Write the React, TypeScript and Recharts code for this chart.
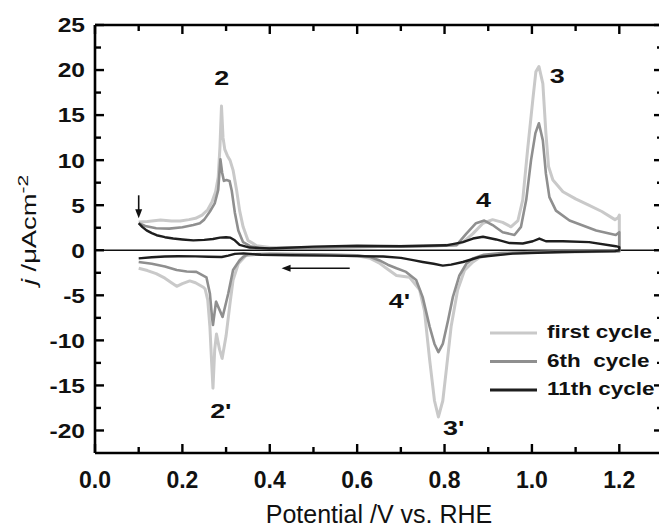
import React from 'react';
import { LineChart, Line, XAxis, YAxis, ReferenceLine, ReferenceDot, Legend, Label } from 'recharts';

const FONT = '"Liberation Sans", Arial, Helvetica, sans-serif';
const INK = '#111111';

// ---- first cycle (anodic 0.1 -> 1.2, then cathodic 1.2 -> 0.1) ----
const firstV = [
  0.100, 0.120, 0.150, 0.175, 0.195, 0.215, 0.230, 0.245, 0.258, 0.268, 0.276, 0.282, 0.286, 0.2895, 0.293, 0.297,
  0.303, 0.309, 0.316, 0.324, 0.331, 0.339, 0.350, 0.370, 0.400, 0.500, 0.600, 0.700, 0.780, 0.827, 0.845, 0.865,
  0.888, 0.910, 0.933, 0.952, 0.968, 0.979, 0.990, 1.002, 1.009, 1.016, 1.025, 1.032, 1.038, 1.048, 1.071, 1.100,
  1.130, 1.160, 1.190, 1.197, 1.200,
  1.200, 1.150, 1.100, 1.000, 0.950, 0.900, 0.880, 0.865, 0.846, 0.830, 0.815, 0.804, 0.796, 0.786, 0.777, 0.766,
  0.754, 0.743, 0.720, 0.690, 0.670, 0.650, 0.630, 0.600, 0.500, 0.420, 0.370, 0.345, 0.328, 0.316, 0.309, 0.300,
  0.291, 0.285, 0.278, 0.274, 0.270, 0.267, 0.263, 0.258, 0.252, 0.248, 0.230, 0.217, 0.200, 0.187, 0.175, 0.160,
  0.140, 0.120, 0.100,
];
const firstJ = [
  3.15, 3.2, 3.35, 3.25, 3.25, 3.4, 3.55, 3.9, 4.5, 5.4, 6.5, 8.1, 11.5, 16.0, 12.5, 11.2,
  10.5, 10.0, 8.9, 6.7, 4.4, 2.6, 1.1, 0.5, 0.3, 0.3, 0.4, 0.45, 0.5, 0.6, 1.0, 1.85,
  3.0, 3.4, 3.1, 2.6, 3.3, 5.6, 11.1, 16.7, 19.8, 20.4, 18.5, 13.0, 9.3, 7.8, 6.5, 5.7,
  5.0, 4.3, 3.4, 3.6, 3.9,
  -0.1, -0.15, -0.2, -0.25, -0.35, -0.55, -0.8, -1.3, -2.2, -4.4, -8.5, -13.3, -16.7, -18.5, -16.7, -12.2,
  -6.7, -4.4, -3.0, -2.8, -2.1, -1.4, -0.9, -0.6, -0.5, -0.45, -0.45, -0.6, -1.5, -3.3, -5.9, -9.5,
  -12.0, -11.0, -9.3, -11.0, -15.3, -12.5, -8.5, -5.5, -4.3, -4.1, -3.6, -3.4, -3.7, -4.0, -3.6, -3.1,
  -2.6, -2.25, -2.0,
];

// ---- 6th cycle ----
const sixthV = [
  0.100, 0.115, 0.140, 0.170, 0.200, 0.225, 0.240, 0.250, 0.263, 0.274, 0.282, 0.287, 0.291, 0.295, 0.301, 0.308,
  0.313, 0.320, 0.328, 0.339, 0.355, 0.380, 0.450, 0.550, 0.650, 0.750, 0.800, 0.827, 0.850, 0.872, 0.891, 0.910,
  0.933, 0.960, 0.975, 0.987, 0.998, 1.008, 1.016, 1.025, 1.032, 1.040, 1.055, 1.086, 1.147, 1.192, 1.200,
  1.200, 1.100, 1.000, 0.930, 0.890, 0.865, 0.850, 0.834, 0.819, 0.808, 0.796, 0.786, 0.777, 0.766, 0.750, 0.735,
  0.712, 0.690, 0.670, 0.650, 0.630, 0.600, 0.500, 0.400, 0.350, 0.340, 0.331, 0.316, 0.305, 0.292, 0.277, 0.270,
  0.268, 0.263, 0.255, 0.232, 0.210, 0.187, 0.160, 0.130, 0.100,
];
const sixthJ = [
  3.0, 2.7, 2.45, 2.4, 2.55, 2.8, 3.0, 3.4, 4.3, 5.2, 6.7, 10.1, 8.6, 7.7, 7.8, 7.7,
  6.6, 4.2, 2.2, 0.9, 0.45, 0.2, 0.25, 0.35, 0.4, 0.45, 0.5, 0.55, 1.85, 3.0, 3.3, 2.8,
  2.0, 1.7, 2.6, 5.6, 10.0, 13.0, 14.1, 12.2, 8.5, 5.9, 4.4, 3.3, 2.2, 1.7, 2.0,
  -0.1, -0.15, -0.2, -0.3, -0.5, -0.9, -1.5, -2.8, -5.2, -7.8, -10.4, -11.3, -10.4, -8.5, -5.2, -3.3,
  -2.4, -2.0, -1.6, -1.1, -0.75, -0.55, -0.45, -0.4, -0.45, -0.7, -1.1, -2.2, -4.8, -7.4, -5.7, -8.3,
  -7.5, -4.8, -3.0, -2.4, -2.35, -2.2, -1.8, -1.5, -1.3,
];

// ---- 11th cycle ----
const eleventhV = [
  0.100, 0.108, 0.118, 0.130, 0.141, 0.160, 0.179, 0.200, 0.225, 0.250, 0.270, 0.286, 0.300, 0.310, 0.320, 0.331,
  0.354, 0.400, 0.500, 0.600, 0.700, 0.804, 0.842, 0.865, 0.888, 0.918, 0.949, 0.979, 1.002, 1.017, 1.032, 1.071,
  1.131, 1.192, 1.200,
  1.200, 1.190, 1.070, 0.956, 0.880, 0.842, 0.815, 0.796, 0.775, 0.750, 0.728, 0.700, 0.660, 0.600, 0.537, 0.450,
  0.380, 0.340, 0.320, 0.305, 0.290, 0.260, 0.230, 0.190, 0.160, 0.130, 0.100,
];
const eleventhJ = [
  3.0, 2.6, 2.2, 1.9, 1.67, 1.45, 1.3, 1.2, 1.1, 1.15, 1.25, 1.4, 1.45, 1.4, 1.1, 0.6,
  0.3, 0.2, 0.4, 0.5, 0.45, 0.55, 0.9, 1.3, 1.5, 1.2, 0.8, 0.75, 1.0, 1.3, 1.0, 1.0,
  0.9, 0.45, 0.35,
  0.0, -0.1, -0.2, -0.37, -0.75, -1.3, -1.6, -1.7, -1.5, -1.3, -1.1, -0.85, -0.7, -0.65, -0.6, -0.55,
  -0.5, -0.35, -0.4, -0.6, -0.75, -0.72, -0.68, -0.67, -0.7, -0.78, -0.9,
];

const seriesNames = ['first cycle', '6th  cycle', '11th cycle'];
const seriesColors = ['#c9c9c9', '#8f8f8f', '#1e1e1e'];
const seriesWidths = [3, 2.6, 2.4];

const xDomain = [0, 1.3];
const yDomain = [-22.5, 25];
const xMajorTicks = [0, 0.2, 0.4, 0.6, 0.8, 1.0, 1.2];
const xMinorTicks = [0.1, 0.3, 0.5, 0.7, 0.9, 1.1];
const yMajorTicks = [-20, -15, -10, -5, 0, 5, 10, 15, 20, 25];
const yMinorTicks = [-17.5, -12.5, -7.5, -2.5, 2.5, 7.5, 12.5, 17.5, 22.5];

const peakLabels = ['2', '3', '4', "4'", "2'", "3'"];
const peakLabelV = [0.290, 1.058, 0.889, 0.697, 0.288, 0.821];
const peakLabelJ = [19.2, 19.4, 5.6, -5.6, -17.8, -19.7];

const arrowFromV = [0.1, 0.583];
const arrowFromJ = [6.1, -2.0];
const arrowToV = [0.1, 0.427];
const arrowToJ = [3.55, -2.0];

const toData = (vs: number[], js: number[]) => vs.map((v, i) => ({ v, j: js[i] }));
const seriesData = [toData(firstV, firstJ), toData(sixthV, sixthJ), toData(eleventhV, eleventhJ)];

const ok = (...ns: any[]) => ns.every((n) => typeof n === 'number' && !isNaN(n));

const XTick = (p: any) => (
  <text x={p.x} y={p.y} dy="0.72em" textAnchor="middle" fontFamily={FONT} fontWeight="bold" fontSize={23} fill={INK}>
    {Number(p.payload.value).toFixed(1)}
  </text>
);

const YTick = (p: any) => (
  <text
    transform={`translate(${p.x},${p.y}) scale(1.2,1)`}
    dy="0.36em"
    textAnchor="end"
    fontFamily={FONT}
    fontWeight="bold"
    fontSize={20.5}
    fill={INK}
  >
    {String(p.payload.value)}
  </text>
);

const vTicks = (p: any, len: number) => {
  const { x1, y1, y2 } = p;
  if (!ok(x1, y1, y2)) return <g />;
  const top = Math.min(y1, y2);
  const bottom = Math.max(y1, y2);
  return (
    <g>
      <line x1={x1} x2={x1} y1={bottom} y2={bottom - len} stroke="#000" strokeWidth={2.4} />
      <line x1={x1} x2={x1} y1={top} y2={top + len} stroke="#000" strokeWidth={2.4} />
    </g>
  );
};
const hTicks = (p: any, len: number) => {
  const { x1, x2, y1 } = p;
  if (!ok(x1, x2, y1)) return <g />;
  const left = Math.min(x1, x2);
  const right = Math.max(x1, x2);
  return (
    <g>
      <line x1={left} x2={left + len} y1={y1} y2={y1} stroke="#000" strokeWidth={2.4} />
      <line x1={right} x2={right - len} y1={y1} y2={y1} stroke="#000" strokeWidth={2.4} />
    </g>
  );
};
const VTickMajor = (p: any) => vTicks(p, 9);
const VTickMinor = (p: any) => vTicks(p, 6);
const HTickMajor = (p: any) => hTicks(p, 9);
const HTickMinor = (p: any) => hTicks(p, 6);

const XTitle = (p: any) => {
  const vb = p.viewBox || { x: 95, y: 453, width: 568 };
  return (
    <text x={vb.x + vb.width / 2} y={vb.y + 70} textAnchor="middle" fontFamily={FONT} fontSize={25} fill={INK}>
      Potential /V vs. RHE
    </text>
  );
};

const YTitle = (p: any) => {
  const vb = p.viewBox || { x: 0, y: 25, width: 95, height: 428 };
  const cx = 36;
  const cy = vb.y + vb.height / 2 - 9;
  return (
    <text
      transform={`translate(${cx},${cy}) rotate(-90) scale(1.4,1)`}
      textAnchor="middle"
      fontFamily={FONT}
      fontSize={19.5}
      fill={INK}
    >
      <tspan fontStyle="italic">j</tspan>
      <tspan style={{ whiteSpace: 'pre' }}> /μAcm</tspan>
      <tspan dy={-8} fontSize={15}>-2</tspan>
    </text>
  );
};

const PeakText = (p: any) => (
  <text
    transform={`translate(${p.cx},${p.cy}) scale(1.28,1)`}
    dy="0.36em"
    textAnchor="middle"
    fontFamily={FONT}
    fontWeight="bold"
    fontSize={21}
    fill={INK}
  >
    {p.label}
  </text>
);

const ArrowShape = (p: any) => {
  const { x1, y1, x2, y2 } = p;
  if (!ok(x1, y1, x2, y2)) return <g />;
  const dx = x2 - x1;
  const dy = y2 - y1;
  const L = Math.sqrt(dx * dx + dy * dy) || 1;
  const ux = dx / L;
  const uy = dy / L;
  const nx = -uy;
  const ny = ux;
  const head = 9;
  const half = 3.5;
  const bx = x2 - ux * head;
  const by = y2 - uy * head;
  return (
    <g>
      <line x1={x1} y1={y1} x2={x2 - ux * 5} y2={y2 - uy * 5} stroke={INK} strokeWidth={1.6} />
      <polygon
        points={`${x2},${y2} ${bx + nx * half},${by + ny * half} ${bx - nx * half},${by - ny * half}`}
        fill={INK}
      />
    </g>
  );
};

const renderLegend = (props: any) => {
  const payload = (props.payload || [])
    .slice()
    .sort((a: any, b: any) => seriesNames.indexOf(a.value) - seriesNames.indexOf(b.value));
  return (
    <svg width={174} height={90} style={{ display: 'block' }}>
      {payload.map((item: any, i: number) => {
        const cy = 16 + i * 28.5;
        return (
          <g key={String(item.value)}>
            <line x1={5} x2={52} y1={cy} y2={cy} stroke={item.color} strokeWidth={3} />
            <text
              transform={`translate(62,${cy}) scale(1.25,1)`}
              dy="0.3em"
              fontFamily={FONT}
              fontWeight="bold"
              fontSize={18}
              fill={INK}
              style={{ whiteSpace: 'pre' }}
            >
              {item.value}
            </text>
          </g>
        );
      })}
    </svg>
  );
};

const frameSegments = [
  [{ x: xDomain[0], y: yDomain[0] }, { x: xDomain[1], y: yDomain[0] }],
  [{ x: xDomain[0], y: yDomain[1] }, { x: xDomain[1], y: yDomain[1] }],
  [{ x: xDomain[0], y: yDomain[0] }, { x: xDomain[0], y: yDomain[1] }],
  [{ x: xDomain[1], y: yDomain[0] }, { x: xDomain[1], y: yDomain[1] }],
];

export default function App() {
  return (
    <div style={{ position: 'absolute', left: 0, top: 0, width: 659, height: 528, overflow: 'hidden', background: '#fff' }}>
      <LineChart width={663} height={528} margin={{ top: 25, right: 0, bottom: 0, left: 0 }}>
        <XAxis
          xAxisId="main"
          dataKey="v"
          type="number"
          domain={xDomain}
          allowDataOverflow
          ticks={xMajorTicks}
          interval={0}
          tick={XTick}
          tickLine={false}
          tickMargin={12}
          height={75}
          axisLine={false}
        >
          <Label content={<XTitle />} />
        </XAxis>
        <YAxis
          yAxisId="main"
          type="number"
          domain={yDomain}
          allowDataOverflow
          ticks={yMajorTicks}
          interval={0}
          tick={YTick}
          tickLine={false}
          tickMargin={4}
          width={95}
          axisLine={false}
        >
          <Label content={<YTitle />} />
        </YAxis>

        <ReferenceLine
          xAxisId="main"
          yAxisId="main"
          ifOverflow="visible"
          segment={[{ x: xDomain[0], y: 0 }, { x: xDomain[1], y: 0 }]}
          stroke={INK}
          strokeWidth={1.6}
        />

        {seriesData.map((d, i) => (
          <Line
            key={seriesNames[i]}
            xAxisId="main"
            yAxisId="main"
            data={d}
            dataKey="j"
            name={seriesNames[i]}
            type="linear"
            stroke={seriesColors[i]}
            strokeWidth={seriesWidths[i]}
            strokeLinejoin="round"
            dot={false}
            activeDot={false}
            isAnimationActive={false}
          />
        ))}

        {frameSegments.map((seg, i) => (
          <ReferenceLine key={`frame-${i}`} xAxisId="main" yAxisId="main" ifOverflow="visible"
            segment={seg} stroke="#000" strokeWidth={2.6} />
        ))}
        {xMajorTicks.map((v) => (
          <ReferenceLine key={`xM-${v}`} xAxisId="main" yAxisId="main" ifOverflow="visible"
            segment={[{ x: v, y: yDomain[0] }, { x: v, y: yDomain[1] }]} shape={VTickMajor} />
        ))}
        {xMinorTicks.map((v) => (
          <ReferenceLine key={`xm-${v}`} xAxisId="main" yAxisId="main" ifOverflow="visible"
            segment={[{ x: v, y: yDomain[0] }, { x: v, y: yDomain[1] }]} shape={VTickMinor} />
        ))}
        {yMajorTicks.map((v) => (
          <ReferenceLine key={`yM-${v}`} xAxisId="main" yAxisId="main" ifOverflow="visible"
            segment={[{ x: xDomain[0], y: v }, { x: xDomain[1], y: v }]} shape={HTickMajor} />
        ))}
        {yMinorTicks.map((v) => (
          <ReferenceLine key={`ym-${v}`} xAxisId="main" yAxisId="main" ifOverflow="visible"
            segment={[{ x: xDomain[0], y: v }, { x: xDomain[1], y: v }]} shape={HTickMinor} />
        ))}

        {arrowFromV.map((v, i) => (
          <ReferenceLine
            key={`arrow-${i}`}
            xAxisId="main"
            yAxisId="main"
            ifOverflow="visible"
            segment={[
              { x: v, y: arrowFromJ[i] },
              { x: arrowToV[i], y: arrowToJ[i] },
            ]}
            shape={ArrowShape}
          />
        ))}

        {peakLabels.map((t, i) => (
          <ReferenceDot
            key={`peak-${i}`}
            xAxisId="main"
            yAxisId="main"
            x={peakLabelV[i]}
            y={peakLabelJ[i]}
            r={0}
            shape={(p: any) => <PeakText cx={p.cx} cy={p.cy} label={t} />}
          />
        ))}

        <Legend
          layout="vertical"
          align="center"
          verticalAlign="middle"
          wrapperStyle={{ position: 'absolute', left: 485, top: 317, width: 174, height: 90 }}
          content={renderLegend}
        />
      </LineChart>
    </div>
  );
}
